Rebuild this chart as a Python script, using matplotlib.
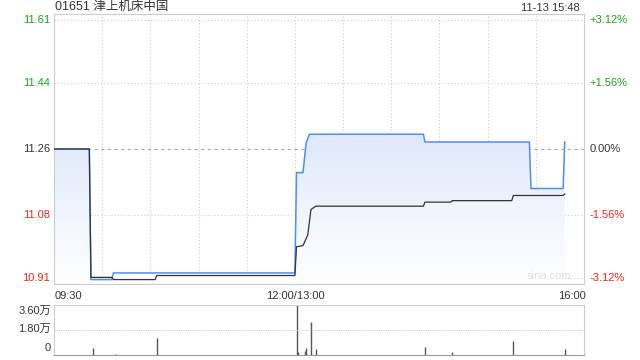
import numpy as np
import matplotlib.pyplot as plt
from matplotlib.colors import LinearSegmentedColormap

plt.rcParams['font.family'] = ['Liberation Sans', 'Noto Sans CJK SC', 'DejaVu Sans']

# 종목 / 기준가
title = '01651 津上机床中国'
stamp = '11-13 15:48'
prev_close = 11.26

# 가격선 (시간, 가격)
price_t = ['09:30', '09:52', '09:53', '10:06', '10:07', '13:00', '13:01', '13:05', '13:07', '13:09',
           '14:20', '14:21', '15:26', '15:27', '15:47', '15:48']
price_v = [11.26, 11.26, 10.906, 10.906, 10.924, 10.924, 11.196, 11.196, 11.277, 11.30,
           11.30, 11.279, 11.279, 11.153, 11.153, 11.279]

# 평균가선
avg_t = ['09:30', '09:52', '09:53', '10:06', '10:07', '10:33', '10:34', '13:00', '13:01', '13:05',
         '13:08', '13:10', '13:13', '14:20', '14:21', '14:37', '14:38', '15:15', '15:16', '15:47', '15:48']
avg_v = [11.26, 11.26, 10.912, 10.912, 10.906, 10.906, 10.917, 10.917, 10.995, 10.998,
         11.027, 11.096, 11.105, 11.105, 11.116, 11.116, 11.120, 11.120, 11.134, 11.134, 11.138]

# 거래량
vol_t = ['09:54', '10:08', '10:34', '13:01', '13:02', '13:06', '13:07', '13:10', '13:13',
         '14:21', '14:38', '15:16', '15:48']
vol_v = [5000, 1000, 12500, 36000, 2500, 3100, 4800, 24000, 4300, 5800, 1900, 10000, 4300]

# 눈금
price_ticks = [11.61, 11.44, 11.26, 11.08, 10.91]
pct_labels = ['+3.12%', '+1.56%', '0.00%', '-1.56%', '-3.12%']
vol_labels = ['3.60万', '1.80万', '0']
x_labels = ['09:30', '12:00/13:00', '16:00']


def to_idx(t):
    # 거래분 인덱스 (09:30 = 0, 12:00 = 13:00 = 150, 16:00 = 330)
    h, m = map(int, t.split(':'))
    mins = h * 60 + m
    if mins <= 12 * 60:
        return mins - 570
    return mins - 780 + 150


px = np.array([to_idx(t) for t in price_t])
ax_ = np.array([to_idx(t) for t in avg_t])
vx = np.array([to_idx(t) for t in vol_t])

green = '#1aa31a'
red = '#f0281e'
grid_c = '#cfcfcf'
fs = 8

fig = plt.figure(figsize=(6.4, 3.6), dpi=100)
ax = fig.add_axes([54 / 640, 1 - 284 / 360, 530 / 640, 270 / 360])
axv = fig.add_axes([54 / 640, 1 - 355 / 360, 530 / 640, 50 / 360])

span = 0.366
ylo, yhi = prev_close - span, prev_close + span
ax.set_xlim(0, 330)
ax.set_ylim(ylo, yhi)

# 격자
for i in range(1, 11):
    ax.axvline(i * 30, color=grid_c, lw=0.8, ls=(0, (1, 2)), zorder=0)
for p in price_ticks:
    if p == prev_close:
        ax.axhline(p, color='#aaaaaa', lw=0.8, ls=(0, (3, 3)), zorder=0)
    else:
        ax.axhline(p, color=grid_c, lw=0.8, ls=(0, (1, 2)), zorder=0)

# 그라데이션 영역
poly = ax.fill_between(px, price_v, ylo, facecolor='none', edgecolor='none')
cmap = LinearSegmentedColormap.from_list('fade', ['#ffffff', '#dfe9fb'])
grad = np.linspace(0, 1, 256).reshape(-1, 1)
im = ax.imshow(grad, cmap=cmap, aspect='auto', origin='lower',
               extent=[0, 330, ylo, max(price_v)], zorder=1)
im.set_clip_path(poly.get_paths()[0], transform=ax.transData)

ax.plot(px, price_v, color='#4d8ff0', lw=1.1, zorder=3)
ax.plot(ax_, avg_v, color='#333333', lw=0.9, zorder=3)

for s in ax.spines.values():
    s.set_color('#cccccc')
ax.set_xticks([])
ax.set_yticks([])

# 좌/우 라벨
colors = [green, green, '#333333', red, red]
for p, lab, c in zip(price_ticks, pct_labels, colors):
    y = (p - ylo) / (yhi - ylo)
    ax.text(-0.007, y, f'{p:.2f}', transform=ax.transAxes, ha='right', va='center',
            fontsize=fs, color=c)
    ax.text(1.011, y, lab, transform=ax.transAxes, ha='left', va='center',
            fontsize=fs, color=c)

fig.text(55 / 640, 1 - 6.5 / 360, title, ha='left', va='center', fontsize=9, color='#333333')
fig.text(580 / 640, 1 - 8 / 360, stamp, ha='right', va='center', fontsize=fs, color='#333333')
ax.text(0.977, 0.012, 'sina.com', transform=ax.transAxes, ha='right', va='bottom', fontsize=fs, color='#dddddd')

# x 라벨
fig.text(55 / 640, 1 - 296 / 360, x_labels[0], ha='left', va='center', fontsize=fs, color='#333333')
fig.text(295 / 640, 1 - 296 / 360, x_labels[1], ha='center', va='center', fontsize=fs, color='#333333')
fig.text(586 / 640, 1 - 296 / 360, x_labels[2], ha='right', va='center', fontsize=fs, color='#333333')

# 거래량
axv.set_xlim(0, 330)
axv.set_ylim(0, 36000)
axv.vlines(vx, 0, vol_v, color='#555555', lw=1)
axv.axhline(18000, color=grid_c, lw=0.8, ls=(0, (1, 1)))
for k, s in axv.spines.items():
    s.set_color('#cccccc')
    if k in ('top', 'bottom'):
        s.set_linestyle((0, (1, 1)))
        s.set_color('#999999' if k == 'bottom' else grid_c)
axv.set_xticks([])
axv.set_yticks([])
for lab, yp in zip(vol_labels, [311, 329.3, 347.7]):
    fig.text(51 / 640, 1 - yp / 360, lab, ha='right', va='center', fontsize=fs, color='#333333')

fig.savefig('out.png', dpi=100)
